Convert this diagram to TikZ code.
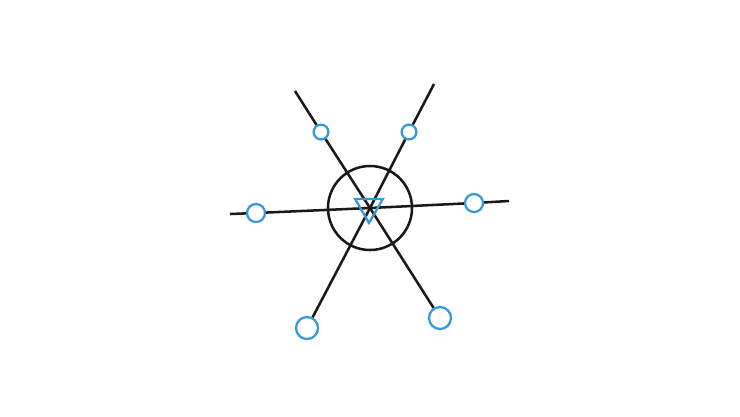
\documentclass[tikz,border=0pt]{standalone}
\usetikzlibrary{shapes.geometric}
\definecolor{pinblue}{RGB}{52,152,219}
\tikzset{
  spoke/.style={line width=1.8pt,black!90},
  pin/.style={circle,draw=pinblue,line width=1.6pt,fill=white,inner sep=0pt},
  pinS/.style={pin,minimum size=0.37cm},
  pinM/.style={pin,minimum size=0.45cm},
  pinL/.style={pin,minimum size=0.55cm}
}
\begin{document}
\begin{tikzpicture}[x=0.025cm,y=-0.025cm]
        \useasboundingbox (0,0) rectangle (740,416);
        % hub and ring
        \coordinate (hub) at (370,208);
        \node[circle,draw,line width=1.8pt,black!90,minimum size=2.1cm,inner sep=0pt] (ring) at (hub) {};
        % free ends of the spokes
        \coordinate (endUL) at (295,91);
        \coordinate (endUR) at (434,84);
        \coordinate (endL) at (230,214);
        \coordinate (endR) at (509,201);
        % blue pins
        \node[pinS] (pinUL) at (321,132) {};
        \node[pinS] (pinUR) at (409,132) {};
        \node[pinM] (pinL) at (256,213) {};
        \node[pinM] (pinR) at (474,203) {};
        \node[pinL] (pinLL) at (307,328) {};
        \node[pinL] (pinLR) at (440,318) {};
        % spokes
        \draw[spoke] (endUL) -- (pinUL) -- (hub) -- (pinLR);
        \draw[spoke] (endUR) -- (pinUR) -- (hub) -- (pinLL);
        \draw[spoke] (endL) -- (pinL) -- (hub) -- (pinR) -- (endR);
        % marker at the hub
        \node[regular polygon,regular polygon sides=3,shape border rotate=180,draw=pinblue,line width=1.6pt,minimum size=0.8cm,inner sep=0pt] (mark) at (369,207) {};
\end{tikzpicture}
\end{document}
